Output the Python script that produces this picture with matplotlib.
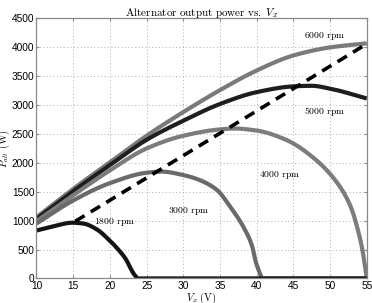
import numpy as np
import matplotlib
matplotlib.use("Agg")
import matplotlib.pyplot as plt

plt.rcParams['mathtext.fontset'] = 'cm'
plt.rcParams['font.family'] = ['Liberation Sans', 'DejaVu Sans']

# Data (Vx in volts, power in watts)
v_6000 = [10, 15, 20, 25, 30, 35, 40, 45, 50, 55]
p_6000 = [1060, 1550, 2010, 2470, 2880, 3260, 3600, 3860, 4000, 4070]

v_5000 = [10, 15, 20, 25, 30, 35, 40, 45, 47.5, 50, 55]
p_5000 = [1030, 1510, 1960, 2400, 2730, 3020, 3225, 3325, 3335, 3285, 3115]

v_4000 = [10, 15, 20, 25, 30, 35, 37, 40, 44, 48, 51, 52.8, 53.9, 54.4, 55]
p_4000 = [990, 1440, 1870, 2250, 2470, 2580, 2595, 2560, 2400, 2060, 1650, 1245, 785, 496, 0]

v_3000 = [10, 15, 20, 25, 27, 30, 32.3, 34.6, 36.4, 38.2, 39.4, 39.8, 40.7, 55]
p_3000 = [950, 1350, 1650, 1830, 1850, 1790, 1700, 1530, 1240, 890, 550, 320, 0, 0]

v_1800 = [10, 12.5, 14.9, 16.4, 18.2, 19.9, 21.2, 22.1, 23.2, 23.75, 55]
p_1800 = [830, 910, 965, 950, 851, 666, 493, 349, 90, 0, 0]

v_max = [15.3, 55]
p_max = [990, 4060]

labels = ["6000 rpm", "5000 rpm", "4000 rpm", "3000 rpm", "1800 rpm"]
label_v = [49.2, 49.2, 43.1, 30.7, 20.7]
label_p = [4195, 2898, 1790, 1173, 972]


def pchip(vx, px, n=40):
    # monotone cubic through the read points (no overshoot)
    x = np.asarray(vx, float)
    y = np.asarray(px, float)
    h = np.diff(x)
    d = np.diff(y) / h
    m = np.zeros_like(y)
    for i in range(1, len(x) - 1):
        if d[i - 1] * d[i] > 0:
            w1 = 2 * h[i] + h[i - 1]
            w2 = h[i] + 2 * h[i - 1]
            m[i] = (w1 + w2) / (w1 / d[i - 1] + w2 / d[i])
    m[0] = d[0]
    m[-1] = d[-1]
    xs, ys = [], []
    for i in range(len(x) - 1):
        t = np.linspace(0, 1, n)
        h00 = 2 * t**3 - 3 * t**2 + 1
        h10 = t**3 - 2 * t**2 + t
        h01 = -2 * t**3 + 3 * t**2
        h11 = t**3 - t**2
        xs.append(x[i] + t * h[i])
        ys.append(h00 * y[i] + h10 * h[i] * m[i] + h01 * y[i + 1] + h11 * h[i] * m[i + 1])
    return np.concatenate(xs), np.clip(np.concatenate(ys), 0, None)


def curve(vx, px):
    # smooth part up to where the power hits zero, then a flat run at zero
    vx = list(vx)
    px = list(px)
    if 0 in px:
        k = px.index(0)
        xs, ys = pchip(vx[:k + 1], px[:k + 1])
        return np.append(xs, vx[k + 1:]), np.append(ys, px[k + 1:])
    return pchip(vx, px)


fig = plt.figure(figsize=(3.72, 3.03), dpi=100)
ax = fig.add_axes([0.098, 0.081, 0.888, 0.858])

lw = 3.0
for vx, px, col in [(v_6000, p_6000, '#7a7a7a'),
                    (v_5000, p_5000, '#1e1e1e'),
                    (v_4000, p_4000, '#7c7c7c'),
                    (v_3000, p_3000, '#6a6a6a'),
                    (v_1800, p_1800, '#141414')]:
    xs, ys = curve(vx, px)
    ax.plot(xs, ys, color=col, lw=lw, solid_capstyle='butt', solid_joinstyle='round')

ax.plot(v_max, p_max, color='black', lw=2.6, dashes=(3, 2))

for txt, lv, lp in zip(labels, label_v, label_p):
    ax.text(lv, lp, r"$\mathrm{" + txt.replace(" ", r"\ ") + "}$",
            ha='center', va='center', fontsize=7)

ax.set_xlim(10, 55)
ax.set_ylim(0, 4500)
ax.set_xticks(np.arange(10, 56, 5))
ax.set_yticks(np.arange(0, 4501, 500))
ax.tick_params(direction='in', length=2.5, labelsize=7.3, pad=1.5,
               top=True, right=True, color='#888888')
ax.grid(True, color='#b0b0b0', linestyle=(0, (1, 2.5)), lw=0.7)
for s in ax.spines.values():
    s.set_color('#888888')
    s.set_linewidth(0.9)

ax.set_title(r"$\mathrm{Alternator\ output\ power\ vs.\ }V_x$", fontsize=8, pad=2)
ax.set_xlabel(r"$V_x\ \mathrm{(V)}$", fontsize=7.5, labelpad=0)
ax.set_ylabel(r"$P_{alt}\ \mathrm{(W)}$", fontsize=7.5, labelpad=0)

fig.savefig("out.png", dpi=100)
